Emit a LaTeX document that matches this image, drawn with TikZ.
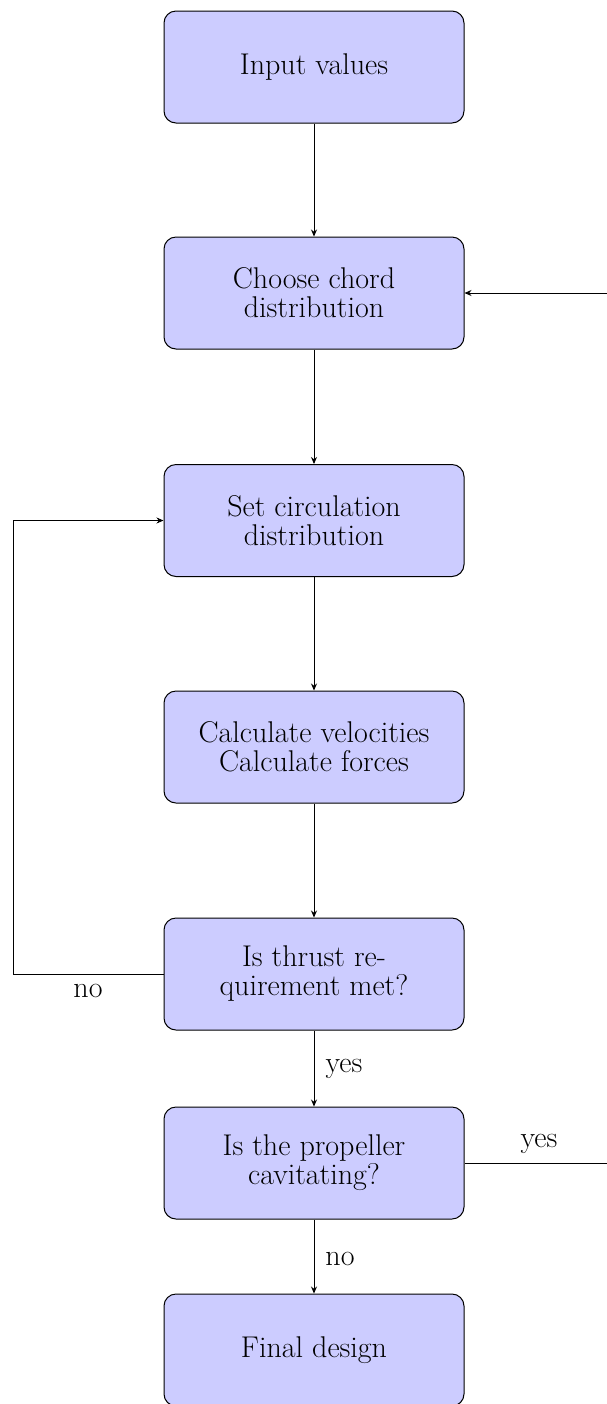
\documentclass[tikz,border=0pt]{standalone}
\usetikzlibrary{arrows.meta}
\begin{document}
\begin{tikzpicture}[x=0.5pt,y=-0.5pt,
  box/.style={draw, line width=0.5pt, rounded corners=6pt, fill=blue!20,
    minimum width=150pt, minimum height=56pt, align=center,
    font=\fontsize{15}{14.5}\selectfont, inner sep=0pt},
  lbl/.style={font=\fontsize{15}{14.5}\selectfont, inner sep=0pt, anchor=base},
  conn/.style={-{Stealth[length=3.5pt,width=3pt]}, line width=0.45pt}]
\useasboundingbox (0,0) rectangle (606,1404);
\node[box] (b1) at (314,67) {Input values};
\node[box] (b2) at (314,293) {Choose chord\\distribution};
\node[box] (b3) at (314,520.5) {Set circulation\\distribution};
\node[box] (b4) at (314,747) {Calculate velocities\\Calculate forces};
\node[box] (b5) at (314,974) {Is thrust re-\\quirement met?};
\node[box] (b6) at (314,1163) {Is the propeller\\cavitating?};
\node[box] (b7) at (314,1350) {Final design};
\draw[conn] (b1) -- (b2);
\draw[conn] (b2) -- (b3);
\draw[conn] (b3) -- (b4);
\draw[conn] (b4) -- (b5);
\draw[conn] (b5) -- (b6);
\draw[conn] (b6) -- (b7);
\coordinate (r1) at (620,1163);
\coordinate (r2) at (620,293);
\draw[conn] (b6.east) -- (r1) -- (r2) -- (b2.east);
\coordinate (l1) at (13,974);
\coordinate (l2) at (13,520.5);
\draw[conn] (b5.west) -- (l1) -- (l2) -- (b3.west);
\node[lbl] (yes1) at (344,1072) {yes};
\node[lbl] (yes2) at (539,1147) {yes};
\node[lbl] (no1) at (88,997) {no};
\node[lbl] (no2) at (340,1265) {no};
\end{tikzpicture}
\end{document}
